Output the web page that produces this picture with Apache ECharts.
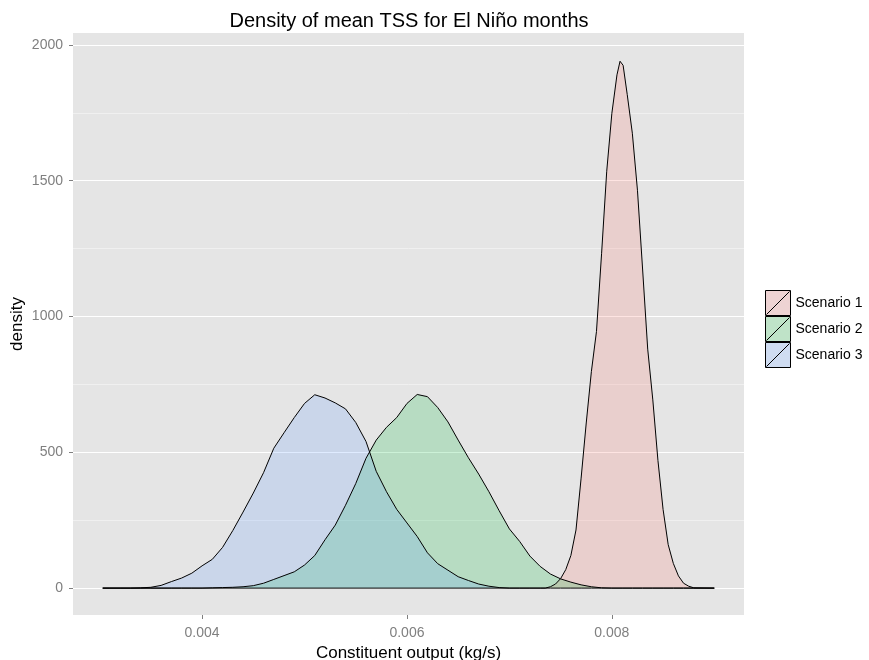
<!DOCTYPE html>
<html>
<head>
<meta charset="utf-8">
<title>Density of mean TSS for El Niño months</title>
<script src="https://cdn.jsdelivr.net/npm/echarts@6/dist/echarts.min.js"></script>
<style>
  html, body { margin: 0; padding: 0; background: #fff; }
  #main { width: 869px; height: 660px; }
</style>
</head>
<body>
<div id="main"></div>
<script>
// shared x grid for scenario 2 and 3 (kg/s)
var gridX = [0.00303, 0.0031, 0.0032, 0.0033, 0.0034, 0.0035, 0.0036, 0.0037, 0.0038, 0.0039,
  0.0040, 0.0041, 0.0042, 0.0043, 0.0044, 0.0045, 0.0046, 0.0047, 0.0048, 0.0049,
  0.0050, 0.0051, 0.0052, 0.0053, 0.0054, 0.0055, 0.0056, 0.0057, 0.0058, 0.0059,
  0.0060, 0.0061, 0.0062, 0.0063, 0.0064, 0.0065, 0.0066, 0.0067, 0.0068, 0.0069,
  0.0070, 0.0071, 0.0072, 0.0073, 0.0074, 0.0075, 0.0076, 0.0077, 0.0078, 0.0079,
  0.0080, 0.0081, 0.0082, 0.0083, 0.0084, 0.0085, 0.0086, 0.0087, 0.0088, 0.0089, 0.0090];

var scen2 = [0, 0, 0, 0, 0, 0, 0, 0, 0, 0,
  0, 1, 2, 3, 5, 9, 18, 32, 46, 60,
  85, 120, 178, 232, 305, 385, 478, 545, 592, 628,
  680, 713, 705, 665, 612, 545, 480, 420, 355, 285,
  218, 172, 118, 80, 52, 34, 22, 12, 5, 1,
  0, 0, 0, 0, 0, 0, 0, 0, 0, 0, 0];

var scen3 = [0, 0, 0, 0, 1, 3, 10, 24, 37, 55,
  82, 106, 150, 212, 280, 350, 425, 515, 572, 628,
  680, 712, 700, 682, 660, 610, 540, 430, 355, 290,
  240, 190, 130, 90, 66, 42, 28, 15, 7, 2,
  0, 0, 0, 0, 0, 0, 0, 0, 0, 0,
  0, 0, 0, 0, 0, 0, 0, 0, 0, 0, 0];

// scenario 1 is a narrow peak, sampled finer
var scen1X = [0.00303, 0.0073, 0.00735, 0.0074, 0.00745, 0.0075, 0.00755, 0.0076, 0.00765, 0.0077,
  0.00775, 0.0078, 0.00785, 0.0079, 0.00795, 0.0080, 0.00805, 0.00808, 0.00811, 0.00815,
  0.0082, 0.00825, 0.0083, 0.00835, 0.0084, 0.00845, 0.0085, 0.00855, 0.0086, 0.00865,
  0.0087, 0.00875, 0.0088, 0.0090];
var scen1 = [0, 0, 0, 5, 15, 35, 68, 120, 214, 405,
  608, 797, 945, 1233, 1535, 1748, 1890, 1940, 1925, 1818,
  1675, 1465, 1175, 880, 693, 470, 290, 160, 91, 45,
  18, 7, 1, 0];

var names = ['Scenario 1', 'Scenario 2', 'Scenario 3'];
var hues = ['#F8766D', '#00BA38', '#619CFF'];
var keyFills = ['#EED3D3', '#BFE3C8', '#CFDCF1'];

var xTicks = [0.004, 0.006, 0.008];
var xMinor = [0.003, 0.005, 0.007, 0.009];
var yTicks = [0, 500, 1000, 1500, 2000];
var yMinor = [250, 750, 1250, 1750];

function pairs(xs, ys) {
  return xs.map(function (x, i) { return [x, ys[i]]; });
}

var font = 'Liberation Sans, Arial, sans-serif';
var keyIcon = 'path://M0,0H25V25H0Z M1,24L24,1';

var gridLines = [];
yTicks.forEach(function (v) { gridLines.push({ yAxis: v, lineStyle: { color: '#ffffff', width: 1.2, type: 'solid' } }); });
yMinor.forEach(function (v) { gridLines.push({ yAxis: v, lineStyle: { color: '#F2F2F2', width: 0.8, type: 'solid' } }); });
xTicks.forEach(function (v) { gridLines.push({ xAxis: v, lineStyle: { color: '#ffffff', width: 1.2, type: 'solid' } }); });
xMinor.forEach(function (v) { gridLines.push({ xAxis: v, lineStyle: { color: '#F2F2F2', width: 0.8, type: 'solid' } }); });

function densSeries(i, data) {
  return {
    name: names[i],
    type: 'line',
    data: data,
    showSymbol: false,
    symbol: 'none',
    z: 3,
    lineStyle: { color: '#000', width: 1 },
    itemStyle: { color: keyFills[i] },
    areaStyle: { color: hues[i], opacity: 0.2 },
    emphasis: { disabled: true },
    silent: true
  };
}

var chart = echarts.init(document.getElementById('main'));
var option = {
  animation: false,
  backgroundColor: '#ffffff',
  textStyle: { fontFamily: font },
  title: {
    text: 'Density of mean TSS for El Niño months',
    left: 409,
    top: 11,
    padding: 0,
    textAlign: 'center',
    textStyle: { fontFamily: font, fontSize: 20, fontWeight: 'normal', color: '#000' }
  },
  grid: {
    left: 73, right: 125, top: 33, bottom: 45,
    outerBoundsMode: 'none',
    containLabel: false,
    show: true, backgroundColor: '#E5E5E5', borderWidth: 0
  },
  legend: {
    orient: 'vertical',
    left: 765,
    top: 290,
    padding: 0,
    itemWidth: 25,
    itemHeight: 25,
    itemGap: 0,
    selectedMode: false,
    textStyle: { fontFamily: font, fontSize: 14, color: '#000' },
    data: names.map(function (n, i) {
      return { name: n, icon: keyIcon, itemStyle: { color: keyFills[i], borderColor: '#000', borderWidth: 1 } };
    })
  },
  xAxis: {
    type: 'value',
    min: 0.00274,
    max: 0.00929,
    name: 'Constituent output (kg/s)',
    nameLocation: 'middle',
    nameGap: 28,
    nameTextStyle: { fontFamily: font, fontSize: 17, color: '#000' },
    axisLine: { show: false, onZero: false },
    axisTick: { show: true, length: 4, customValues: xTicks, lineStyle: { color: '#7F7F7F' } },
    axisLabel: {
      customValues: xTicks, margin: 11, color: '#7F7F7F', fontSize: 14, fontFamily: font,
      formatter: function (v) { return v.toFixed(3); }
    },
    splitLine: { show: false }
  },
  yAxis: {
    type: 'value',
    min: -99,
    max: 2044,
    name: 'density',
    nameLocation: 'middle',
    nameGap: 47,
    nameMoveOverlap: false,
    nameTextStyle: { fontFamily: font, fontSize: 17, color: '#000' },
    axisLine: { show: false, onZero: false },
    axisTick: { show: true, length: 4, customValues: yTicks, lineStyle: { color: '#7F7F7F' } },
    axisLabel: {
      customValues: yTicks, margin: 10, color: '#7F7F7F', fontSize: 14, fontFamily: font,
      formatter: function (v) { return String(v); }
    },
    splitLine: { show: false }
  },
  series: [
    {
      name: 'panel grid',
      type: 'line',
      data: [],
      silent: true,
      z: 1,
      markLine: {
        silent: true,
        z: 1,
        symbol: ['none', 'none'],
        label: { show: false },
        emphasis: { disabled: true },
        animation: false,
        data: gridLines
      }
    },
    densSeries(0, pairs(scen1X, scen1)),
    densSeries(1, pairs(gridX, scen2)),
    densSeries(2, pairs(gridX, scen3))
  ]
};
chart.setOption(option);
window.addEventListener('resize', function () { chart.resize(); });
</script>
</body>
</html>
